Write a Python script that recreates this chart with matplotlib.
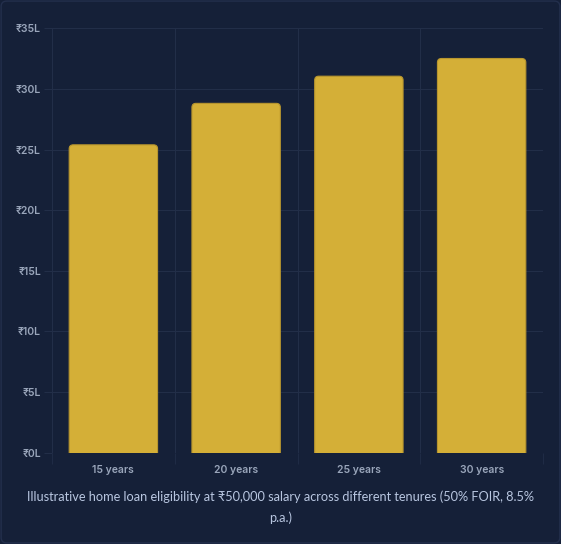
import matplotlib
matplotlib.use("Agg")
import matplotlib.pyplot as plt
from matplotlib.patches import FancyBboxPatch
from matplotlib.ticker import FixedLocator

categories = ["15 years", "20 years", "25 years", "30 years"]
values = [25.39, 28.81, 31.05, 32.51]  # in lakh
yticks = [0, 5, 10, 15, 20, 25, 30, 35]
ytick_labels = ["₹0L", "₹5L", "₹10L", "₹15L", "₹20L", "₹25L", "₹30L", "₹35L"]
caption = "Illustrative home loan eligibility at ₹50,000 salary across different tenures (50% FOIR, 8.5%\np.a.)"

bg = "#152038"
bar_color = "#D4AF37"
bar_edge = "#B8962E"
grid_color = "#222e48"
tick_color = "#9aa6bb"

plt.rcParams['font.family'] = ['Inter', 'DejaVu Sans']

fig = plt.figure(figsize=(5.61, 5.44), dpi=100, facecolor=bg)
ax = fig.add_axes([52/561, 1-452.7/544, (543-52)/561, (452.7-28.3)/544])
ax.set_facecolor(bg)

n = len(categories)
ax.set_xlim(-0.5, n - 0.5)
ax.set_ylim(0, 35)

width = 0.72
ax_w_px = (543-52)
ax_h_px = (452.7-28.3)
x_per_px = n / ax_w_px
y_per_px = 35 / ax_h_px
aspect = y_per_px / x_per_px
for i, v in enumerate(values):
    p = FancyBboxPatch((i - width/2, -2), width, v + 2,
                       boxstyle=f"round,pad=0,rounding_size={4*x_per_px}",
                       mutation_aspect=aspect,
                       facecolor=bar_color, edgecolor=bar_edge, linewidth=0.8,
                       zorder=3, clip_on=True)
    ax.add_patch(p)

ax.set_yticks(yticks)
ax.set_yticklabels(ytick_labels)
ax.set_xticks(range(n))
ax.set_xticklabels(categories)
ax.xaxis.set_minor_locator(FixedLocator([i - 0.5 for i in range(n + 1)]))

ax.grid(axis='y', which='major', color=grid_color, linewidth=0.8, zorder=0)
ax.grid(axis='x', which='minor', color=grid_color, linewidth=0.8, zorder=0)
ax.tick_params(axis='y', which='major', length=6, color=grid_color, labelcolor=tick_color, labelsize=7.5, pad=2)
ax.tick_params(axis='x', which='major', length=0, labelcolor=tick_color, labelsize=7.5, pad=8.5)
ax.tick_params(axis='x', which='minor', length=8, color=grid_color)
for lbl in ax.get_xticklabels() + ax.get_yticklabels():
    lbl.set_fontweight('semibold')
for s in ax.spines.values():
    s.set_visible(False)

fig.text(0.5, 1 - 507/544, caption, ha='center', va='center', color="#b8c6e0",
         fontsize=9.2, linespacing=1.8, family=['Lato', 'DejaVu Sans'])

border = FancyBboxPatch((0.002, 0.002), 0.996, 0.996, transform=fig.transFigure,
                        boxstyle="round,pad=0,rounding_size=0.01",
                        facecolor='none', edgecolor="#232f4c", linewidth=1.0)
fig.patches.append(border)

fig.savefig("out.png", dpi=100, facecolor=bg)
